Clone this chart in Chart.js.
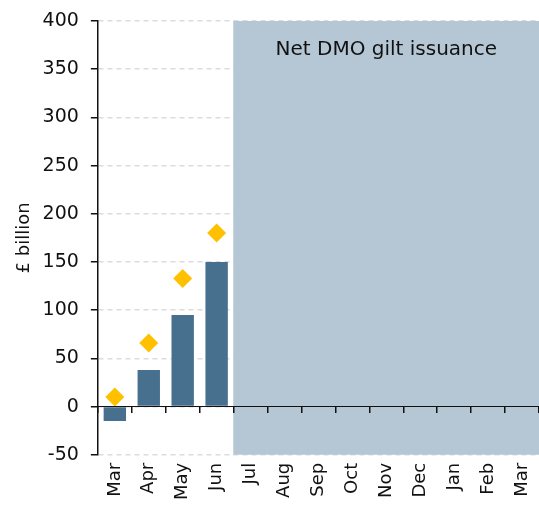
<!DOCTYPE html>
<html>
<head>
<meta charset="utf-8">
<script src="https://cdn.jsdelivr.net/npm/chart.js@4/dist/chart.umd.min.js"></script>
<style>
  html, body { margin: 0; padding: 0; background: #fff; }
  #wrap { width: 539px; height: 511px; }
</style>
</head>
<body>
<div id="wrap"><canvas id="c"></canvas></div>
<script>
/* Categories */
const months = ["Mar", "Apr", "May", "Jun", "Jul", "Aug", "Sep", "Oct", "Nov", "Dec", "Jan", "Feb", "Mar"];
/* Net gilt issuance so far (bars) */
const netIssuance = [-15, 38, 95, 150, null, null, null, null, null, null, null, null, null];
/* Diamonds */
const diamondValues = [10, 66, 133, 180, null, null, null, null, null, null, null, null, null];
/* Shaded future period: [low, high] */
const shadeRange = [null, null, null, null, [-50, 400], [-50, 400], [-50, 400], [-50, 400], [-50, 400], [-50, 400], [-50, 400], [-50, 400], [-50, 400]];
const shadeLabel = "Net DMO gilt issuance";
/* Y ticks */
const yMin = -50, yMax = 400, yStep = 50;

const FONT = "'DejaVu Sans', sans-serif";

/* Label in the shaded area */
const shadeText = {
  id: "shadeText",
  afterDatasetsDraw(chart) {
    const { ctx, chartArea, scales } = chart;
    const left = scales.x.getPixelForValue(4) - scales.x.width / months.length / 2;
    const cx = (left + chartArea.right) / 2;
    const cy = scales.y.getPixelForValue(370);
    ctx.save();
    ctx.font = "20px " + FONT;
    ctx.fillStyle = "#111";
    ctx.textAlign = "center";
    ctx.textBaseline = "middle";
    ctx.fillText(shadeLabel, cx, cy);
    ctx.restore();
  },
};

new Chart(document.getElementById("c"), {
  plugins: [shadeText],
  data: {
    labels: months,
    datasets: [
      {
        type: "line",
        data: diamondValues,
        showLine: false,
        pointStyle: "rectRot",
        pointRadius: 9.5,
        pointBackgroundColor: "#ffc000",
        pointBorderWidth: 0,
        order: 0,
      },
      {
        type: "bar",
        data: netIssuance,
        backgroundColor: "#47708f",
        barPercentage: 0.66,
        categoryPercentage: 1,
        grouped: false,
        order: 1,
      },
      {
        type: "bar",
        data: shadeRange,
        backgroundColor: "#b5c7d5",
        barPercentage: 1,
        categoryPercentage: 1,
        grouped: false,
        order: 2,
      },
    ],
  },
  options: {
    responsive: true,
    maintainAspectRatio: false,
    animation: false,
    events: [],
    layout: { autoPadding: false, padding: { top: 10, left: 10, right: 0, bottom: 3 } },
    plugins: {
      legend: { display: false },
      tooltip: { enabled: false },
    },
    scales: {
      x: {
        type: "category",
        offset: true,
        grid: { display: false, drawTicks: false },
        border: { display: false },
        ticks: {
          color: "#111",
          font: { family: FONT, size: 18 },
          minRotation: 90,
          maxRotation: 90,
          padding: 8,
          autoSkip: false,
        },
        /* let the plot run to the right edge */
        afterFit(scale) {
          scale.paddingRight = 0;
          scale.paddingLeft = 0;
        },
      },
      x0: {
        type: "category",
        position: { y: 0 },
        offset: true,
        z: 1,
        grid: { z: 1, offset: true, drawOnChartArea: false, drawTicks: true, tickLength: 6, color: "#111", lineWidth: 1.5 },
        border: { z: 1, display: true, color: "#111", width: 1 },
        ticks: { display: false },
      },
      y: {
        min: yMin,
        max: yMax,
        ticks: {
          stepSize: yStep,
          color: "#111",
          font: { family: FONT, size: 19 },
          padding: 12,
        },
        grid: { color: "#dcdcdc", tickColor: "#111", tickLength: 7, lineWidth: 1.5 },
        border: { display: true, color: "#111", width: 1.5, dash: [5, 4] },
        title: {
          display: true,
          text: "£ billion",
          color: "#111",
          font: { family: FONT, size: 18 },
          padding: { top: 4, bottom: -5 },
        },
        afterFit(scale) {
          scale.paddingTop = 21;
        },
      },
    },
  },
});
</script>
</body>
</html>
